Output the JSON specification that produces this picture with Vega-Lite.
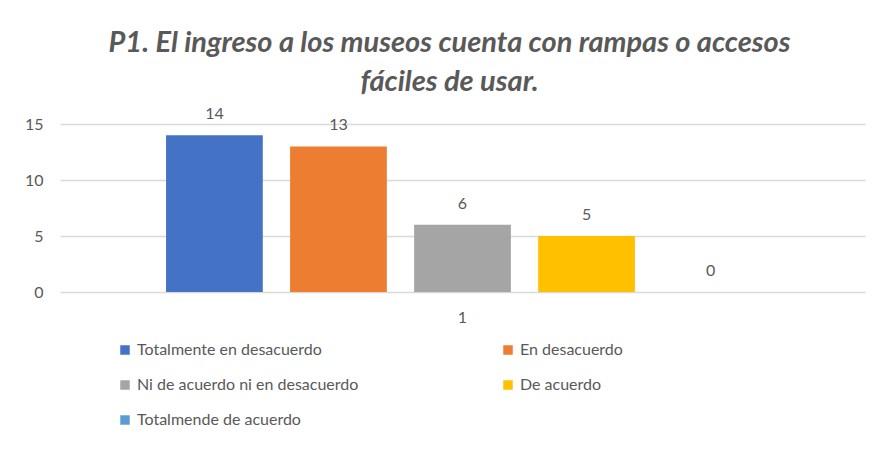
{
  "$schema": "https://vega.github.io/schema/vega-lite/v6.json",
  "autosize": {"type": "none"},
  "width": 805,
  "height": 168,
  "padding": {"left": 60, "top": 124, "right": 12, "bottom": 168},
  "background": "white",
  "config": {
    "font": "Lato",
    "view": {"stroke": null}
  },
  "title": {
    "text": ["P1. El ingreso a los museos cuenta con rampas o accesos", "fáciles de usar."],
    "font": "Lato",
    "fontSize": 29,
    "fontWeight": "bold",
    "fontStyle": "italic",
    "color": "#595959",
    "anchor": "middle",
    "dx": -13,
    "offset": 9,
    "lineHeight": 39
  },
  "data": {
    "values": [
      {"categoria": "1", "serie": "Totalmente en desacuerdo", "valor": 14},
      {"categoria": "1", "serie": "En desacuerdo", "valor": 13},
      {"categoria": "1", "serie": "Ni de acuerdo ni en desacuerdo", "valor": 6},
      {"categoria": "1", "serie": "De acuerdo", "valor": 5},
      {"categoria": "1", "serie": "Totalmende de acuerdo", "valor": 0}
    ]
  },
  "encoding": {
    "x": {
      "field": "categoria",
      "type": "nominal",
      "title": null,
      "scale": {"paddingInner": 0, "paddingOuter": 0.149},
      "axis": {"labelAngle": 0, "domain": false, "ticks": false, "grid": false, "labelFontSize": 16, "labelColor": "#595959", "labelPadding": 17, "labelFont": "Lato"}
    },
    "xOffset": {
      "field": "serie",
      "type": "nominal",
      "sort": ["Totalmente en desacuerdo", "En desacuerdo", "Ni de acuerdo ni en desacuerdo", "De acuerdo", "Totalmende de acuerdo"],
      "scale": {"paddingInner": 0.22, "paddingOuter": 0.11}
    },
    "y": {
      "field": "valor",
      "type": "quantitative",
      "title": null,
      "scale": {"domain": [0, 15], "nice": false},
      "axis": {"values": [0, 5, 10, 15], "domain": false, "ticks": false, "gridColor": "#d9d9d9", "gridWidth": 1.3, "labelFontSize": 16, "labelColor": "#595959", "labelPadding": 17, "labelFont": "Lato"}
    }
  },
  "layer": [
    {
      "mark": {"type": "bar"},
      "encoding": {
        "color": {
          "field": "serie",
          "type": "nominal",
          "sort": ["Totalmente en desacuerdo", "En desacuerdo", "Ni de acuerdo ni en desacuerdo", "De acuerdo", "Totalmende de acuerdo"],
          "scale": {
            "domain": ["Totalmente en desacuerdo", "En desacuerdo", "Ni de acuerdo ni en desacuerdo", "De acuerdo", "Totalmende de acuerdo"],
            "range": ["#4472C4", "#ED7D31", "#A5A5A5", "#FFC000", "#5B9BD5"]
          },
          "legend": {
            "title": null,
            "orient": "none",
            "legendX": 57,
            "legendY": 218,
            "columns": 2,
            "direction": "horizontal",
            "symbolType": "square",
            "symbolSize": 90,
            "symbolStrokeWidth": 0,
            "symbolOpacity": 1,
            "labelFontSize": 16,
            "labelColor": "#595959",
            "labelFont": "Lato",
            "labelOffset": 4,
            "labelLimit": 400,
            "rowPadding": 19,
            "columnPadding": 141
          }
        }
      }
    },
    {
      "mark": {"type": "text", "baseline": "middle", "dy": -21, "fontSize": 16, "color": "#595959", "font": "Lato"},
      "encoding": {
        "text": {"field": "valor", "type": "quantitative"}
      }
    }
  ]
}
